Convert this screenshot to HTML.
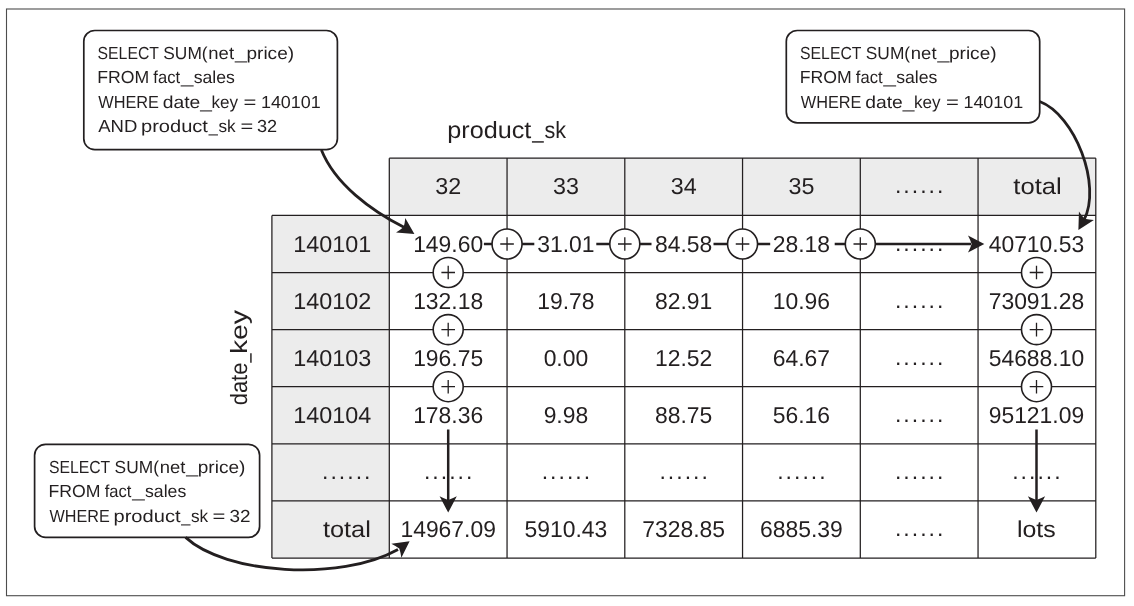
<!DOCTYPE html>
<html lang="en"><head><meta charset="utf-8"><title>Data cube aggregates</title>
<style>html,body{margin:0;padding:0;background:#fff}#fig{width:1134px;height:606px;will-change:transform}svg{display:block}text{white-space:pre;text-rendering:geometricPrecision}</style>
</head><body>
<div id="fig">
<svg width="1134" height="606" viewBox="0 0 1134 606" font-family="'Liberation Sans', sans-serif" fill="#231f20">
<rect x="0" y="0" width="1134" height="606" fill="#fff"/>
<rect x="6.5" y="9.0" width="1118.1" height="586.7" fill="none" stroke="#4d4d4d" stroke-width="1.1"/>
<rect x="389.3" y="158.2" width="706.5" height="57.20000000000002" fill="#ececec"/>
<rect x="271.9" y="215.4" width="117.40000000000003" height="342.6" fill="#ececec"/>
<path d="M389.3,158.2 V558.0 M507.05,158.2 V558.0 M624.8,158.2 V558.0 M742.55,158.2 V558.0 M860.3,158.2 V558.0 M978.05,158.2 V558.0 M1095.8,158.2 V558.0 M271.9,215.4 V558.0 M389.3,158.2 H1095.8 M271.9,215.40 H1095.8 M271.9,272.50 H1095.8 M271.9,329.60 H1095.8 M271.9,386.70 H1095.8 M271.9,443.80 H1095.8 M271.9,500.90 H1095.8 M271.9,558.00 H1095.8" fill="none" stroke="#231f20" stroke-width="1.25"/>
<text x="435.22" y="193.8" font-size="23" textLength="25.92" lengthAdjust="spacingAndGlyphs">32</text>
<text x="552.97" y="193.8" font-size="23" textLength="25.92" lengthAdjust="spacingAndGlyphs">33</text>
<text x="670.72" y="193.8" font-size="23" textLength="25.92" lengthAdjust="spacingAndGlyphs">34</text>
<text x="788.47" y="193.8" font-size="23" textLength="25.92" lengthAdjust="spacingAndGlyphs">35</text>
<text x="894.90 903.33 911.76 920.19 928.62 937.05" y="193.2" font-size="23">......</text>
<text x="1013.39" y="193.8" font-size="23" textLength="48.40" lengthAdjust="spacingAndGlyphs">total</text>
<text x="413.15" y="251.6" font-size="23" textLength="70.04" lengthAdjust="spacingAndGlyphs">149.60</text>
<text x="537.27" y="251.6" font-size="23" textLength="57.31" lengthAdjust="spacingAndGlyphs">31.01</text>
<text x="655.02" y="251.6" font-size="23" textLength="57.31" lengthAdjust="spacingAndGlyphs">84.58</text>
<text x="772.77" y="251.6" font-size="23" textLength="57.31" lengthAdjust="spacingAndGlyphs">28.18</text>
<text x="894.90 903.33 911.76 920.19 928.62 937.05" y="251.0" font-size="23">......</text>
<text x="988.67" y="251.6" font-size="23" textLength="95.51" lengthAdjust="spacingAndGlyphs">40710.53</text>
<text x="413.15" y="308.6" font-size="23" textLength="70.04" lengthAdjust="spacingAndGlyphs">132.18</text>
<text x="537.27" y="308.6" font-size="23" textLength="57.31" lengthAdjust="spacingAndGlyphs">19.78</text>
<text x="655.02" y="308.6" font-size="23" textLength="57.31" lengthAdjust="spacingAndGlyphs">82.91</text>
<text x="772.77" y="308.6" font-size="23" textLength="57.31" lengthAdjust="spacingAndGlyphs">10.96</text>
<text x="894.90 903.33 911.76 920.19 928.62 937.05" y="308.0" font-size="23">......</text>
<text x="988.67" y="308.6" font-size="23" textLength="95.51" lengthAdjust="spacingAndGlyphs">73091.28</text>
<text x="413.15" y="365.7" font-size="23" textLength="70.04" lengthAdjust="spacingAndGlyphs">196.75</text>
<text x="543.64" y="365.7" font-size="23" textLength="44.57" lengthAdjust="spacingAndGlyphs">0.00</text>
<text x="655.02" y="365.7" font-size="23" textLength="57.31" lengthAdjust="spacingAndGlyphs">12.52</text>
<text x="772.77" y="365.7" font-size="23" textLength="57.31" lengthAdjust="spacingAndGlyphs">64.67</text>
<text x="894.90 903.33 911.76 920.19 928.62 937.05" y="365.1" font-size="23">......</text>
<text x="988.67" y="365.7" font-size="23" textLength="95.51" lengthAdjust="spacingAndGlyphs">54688.10</text>
<text x="413.15" y="422.8" font-size="23" textLength="70.04" lengthAdjust="spacingAndGlyphs">178.36</text>
<text x="543.64" y="422.8" font-size="23" textLength="44.57" lengthAdjust="spacingAndGlyphs">9.98</text>
<text x="655.02" y="422.8" font-size="23" textLength="57.31" lengthAdjust="spacingAndGlyphs">88.75</text>
<text x="772.77" y="422.8" font-size="23" textLength="57.31" lengthAdjust="spacingAndGlyphs">56.16</text>
<text x="894.90 903.33 911.76 920.19 928.62 937.05" y="422.2" font-size="23">......</text>
<text x="988.67" y="422.8" font-size="23" textLength="95.51" lengthAdjust="spacingAndGlyphs">95121.09</text>
<text x="423.90 432.33 440.76 449.19 457.62 466.05" y="479.3" font-size="23">......</text>
<text x="541.65 550.08 558.51 566.94 575.37 583.80" y="479.3" font-size="23">......</text>
<text x="659.40 667.83 676.26 684.69 693.12 701.55" y="479.3" font-size="23">......</text>
<text x="777.15 785.58 794.01 802.44 810.87 819.30" y="479.3" font-size="23">......</text>
<text x="894.90 903.33 911.76 920.19 928.62 937.05" y="479.3" font-size="23">......</text>
<text x="1012.15 1020.58 1029.01 1037.44 1045.87 1054.30" y="479.3" font-size="23">......</text>
<text x="400.42" y="537.0" font-size="23" textLength="95.51" lengthAdjust="spacingAndGlyphs">14967.09</text>
<text x="524.54" y="537.0" font-size="23" textLength="82.78" lengthAdjust="spacingAndGlyphs">5910.43</text>
<text x="642.29" y="537.0" font-size="23" textLength="82.78" lengthAdjust="spacingAndGlyphs">7328.85</text>
<text x="760.04" y="537.0" font-size="23" textLength="82.78" lengthAdjust="spacingAndGlyphs">6885.39</text>
<text x="894.90 903.33 911.76 920.19 928.62 937.05" y="536.4" font-size="23">......</text>
<text x="1016.95" y="537.0" font-size="23" textLength="38.78" lengthAdjust="spacingAndGlyphs">lots</text>
<text x="293.38" y="251.6" font-size="23" textLength="77.92" lengthAdjust="spacingAndGlyphs">140101</text>
<text x="293.38" y="308.6" font-size="23" textLength="77.92" lengthAdjust="spacingAndGlyphs">140102</text>
<text x="293.38" y="365.7" font-size="23" textLength="77.92" lengthAdjust="spacingAndGlyphs">140103</text>
<text x="293.38" y="422.8" font-size="23" textLength="77.92" lengthAdjust="spacingAndGlyphs">140104</text>
<text x="321.95 330.38 338.81 347.24 355.67 364.10" y="479.3" font-size="23">......</text>
<text x="322.92" y="537.0" font-size="23" textLength="47.98" lengthAdjust="spacingAndGlyphs">total</text>
<text y="137.6" font-size="23.5"><tspan x="447.27" textLength="84.11" lengthAdjust="spacingAndGlyphs">product</tspan><tspan x="532.31" textLength="11.36" lengthAdjust="spacingAndGlyphs">_</tspan><tspan x="544.50" textLength="21.57" lengthAdjust="spacingAndGlyphs">sk</tspan></text>
<text transform="translate(246.9,404.4) rotate(-90)" font-size="23.5"><tspan x="-0.92" textLength="42.70" lengthAdjust="spacingAndGlyphs">date</tspan><tspan x="41.95" textLength="9.17" lengthAdjust="spacingAndGlyphs">_</tspan><tspan x="50.29" textLength="44.17" lengthAdjust="spacingAndGlyphs">key</tspan></text>
<path d="M483.9,244.0 H492.6 M522,244.0 H534.3 M596.3,244.0 H610 M639.5,244.0 H651.5 M713.5,244.0 H727.8 M757.5,244.0 H770.2 M834.7,244.0 H846 M875,244.0 H971" stroke="#231f20" stroke-width="2.5" fill="none"/>
<path d="M984.30,244.00 L968.00,252.60 Q970.30,248.30 971.60,244.00 Q970.30,239.70 968.00,235.40 Z" fill="#231f20"/>
<path d="M448.2,429.5 V500" stroke="#231f20" stroke-width="2.5" fill="none"/>
<path d="M448.20,512.60 L439.60,496.30 Q443.90,498.60 448.20,499.90 Q452.50,498.60 456.80,496.30 Z" fill="#231f20"/>
<path d="M1036.5,429.5 V500" stroke="#231f20" stroke-width="2.5" fill="none"/>
<path d="M1036.50,512.60 L1027.90,496.30 Q1032.20,498.60 1036.50,499.90 Q1040.80,498.60 1045.10,496.30 Z" fill="#231f20"/>
<circle cx="507.05" cy="244.00" r="15" fill="#fff" stroke="#231f20" stroke-width="1.6"/><path d="M500.25,244.00 H513.85 M507.05,237.20 V250.80" stroke="#231f20" stroke-width="1.3" fill="none"/>
<circle cx="624.8" cy="244.00" r="15" fill="#fff" stroke="#231f20" stroke-width="1.6"/><path d="M618.0,244.00 H631.5999999999999 M624.8,237.20 V250.80" stroke="#231f20" stroke-width="1.3" fill="none"/>
<circle cx="742.55" cy="244.00" r="15" fill="#fff" stroke="#231f20" stroke-width="1.6"/><path d="M735.75,244.00 H749.3499999999999 M742.55,237.20 V250.80" stroke="#231f20" stroke-width="1.3" fill="none"/>
<circle cx="860.3" cy="244.00" r="15" fill="#fff" stroke="#231f20" stroke-width="1.6"/><path d="M853.5,244.00 H867.0999999999999 M860.3,237.20 V250.80" stroke="#231f20" stroke-width="1.3" fill="none"/>
<circle cx="448.2" cy="272.50" r="15" fill="#fff" stroke="#231f20" stroke-width="1.6"/><path d="M441.4,272.50 H455.0 M448.2,265.70 V279.30" stroke="#231f20" stroke-width="1.3" fill="none"/>
<circle cx="448.2" cy="329.60" r="15" fill="#fff" stroke="#231f20" stroke-width="1.6"/><path d="M441.4,329.60 H455.0 M448.2,322.80 V336.40" stroke="#231f20" stroke-width="1.3" fill="none"/>
<circle cx="448.2" cy="386.70" r="15" fill="#fff" stroke="#231f20" stroke-width="1.6"/><path d="M441.4,386.70 H455.0 M448.2,379.90 V393.50" stroke="#231f20" stroke-width="1.3" fill="none"/>
<circle cx="1036.5" cy="272.50" r="15" fill="#fff" stroke="#231f20" stroke-width="1.6"/><path d="M1029.7,272.50 H1043.3 M1036.5,265.70 V279.30" stroke="#231f20" stroke-width="1.3" fill="none"/>
<circle cx="1036.5" cy="329.60" r="15" fill="#fff" stroke="#231f20" stroke-width="1.6"/><path d="M1029.7,329.60 H1043.3 M1036.5,322.80 V336.40" stroke="#231f20" stroke-width="1.3" fill="none"/>
<circle cx="1036.5" cy="386.70" r="15" fill="#fff" stroke="#231f20" stroke-width="1.6"/><path d="M1029.7,386.70 H1043.3 M1036.5,379.90 V393.50" stroke="#231f20" stroke-width="1.3" fill="none"/>
<rect x="83.8" y="30.5" width="253.60" height="119.20" rx="11" ry="11" fill="#fff" stroke="#231f20" stroke-width="1.7"/>
<text y="59.4" font-size="17.4"><tspan x="97.59" textLength="61.07" lengthAdjust="spacingAndGlyphs">SELECT</tspan> <tspan x="163.31" textLength="44.29" lengthAdjust="spacingAndGlyphs">SUM(</tspan><tspan x="208.37" textLength="25.66" lengthAdjust="spacingAndGlyphs">net</tspan><tspan x="234.92" textLength="11.84" lengthAdjust="spacingAndGlyphs">_</tspan><tspan x="246.47" textLength="47.61" lengthAdjust="spacingAndGlyphs">price)</tspan></text>
<text y="83.3" font-size="17.4"><tspan x="97.25" textLength="52.00" lengthAdjust="spacingAndGlyphs">FROM</tspan> <tspan x="153.37" textLength="26.66" lengthAdjust="spacingAndGlyphs">fact</tspan><tspan x="180.94" textLength="12.41" lengthAdjust="spacingAndGlyphs">_</tspan><tspan x="193.71" textLength="41.23" lengthAdjust="spacingAndGlyphs">sales</tspan></text>
<text y="107.6" font-size="17.4"><tspan x="98.23" textLength="60.77" lengthAdjust="spacingAndGlyphs">WHERE</tspan> <tspan x="162.79" textLength="37.57" lengthAdjust="spacingAndGlyphs">date</tspan><tspan x="200.32" textLength="11.65" lengthAdjust="spacingAndGlyphs">_</tspan><tspan x="211.55" textLength="26.58" lengthAdjust="spacingAndGlyphs">key</tspan> <tspan x="243.52" textLength="12.86" lengthAdjust="spacingAndGlyphs">=</tspan> <tspan x="260.93" textLength="59.84" lengthAdjust="spacingAndGlyphs">140101</tspan></text>
<text y="131.6" font-size="17.4"><tspan x="98.26" textLength="39.12" lengthAdjust="spacingAndGlyphs">AND</tspan> <tspan x="141.01" textLength="66.96" lengthAdjust="spacingAndGlyphs">product</tspan><tspan x="208.70" textLength="9.04" lengthAdjust="spacingAndGlyphs">_</tspan><tspan x="218.40" textLength="17.17" lengthAdjust="spacingAndGlyphs">sk</tspan> <tspan x="240.43" textLength="12.74" lengthAdjust="spacingAndGlyphs">=</tspan> <tspan x="256.91" textLength="20.21" lengthAdjust="spacingAndGlyphs">32</tspan></text>
<rect x="786.3" y="30.5" width="253.40" height="92.40" rx="11" ry="11" fill="#fff" stroke="#231f20" stroke-width="1.7"/>
<text y="59.4" font-size="17.4"><tspan x="800.09" textLength="61.07" lengthAdjust="spacingAndGlyphs">SELECT</tspan> <tspan x="865.81" textLength="44.29" lengthAdjust="spacingAndGlyphs">SUM(</tspan><tspan x="910.87" textLength="25.66" lengthAdjust="spacingAndGlyphs">net</tspan><tspan x="937.42" textLength="11.84" lengthAdjust="spacingAndGlyphs">_</tspan><tspan x="948.97" textLength="47.61" lengthAdjust="spacingAndGlyphs">price)</tspan></text>
<text y="83.3" font-size="17.4"><tspan x="799.75" textLength="52.00" lengthAdjust="spacingAndGlyphs">FROM</tspan> <tspan x="855.87" textLength="26.66" lengthAdjust="spacingAndGlyphs">fact</tspan><tspan x="883.44" textLength="12.41" lengthAdjust="spacingAndGlyphs">_</tspan><tspan x="896.21" textLength="41.23" lengthAdjust="spacingAndGlyphs">sales</tspan></text>
<text y="107.6" font-size="17.4"><tspan x="800.73" textLength="60.77" lengthAdjust="spacingAndGlyphs">WHERE</tspan> <tspan x="865.29" textLength="37.57" lengthAdjust="spacingAndGlyphs">date</tspan><tspan x="902.82" textLength="11.65" lengthAdjust="spacingAndGlyphs">_</tspan><tspan x="914.05" textLength="26.58" lengthAdjust="spacingAndGlyphs">key</tspan> <tspan x="946.02" textLength="12.86" lengthAdjust="spacingAndGlyphs">=</tspan> <tspan x="963.43" textLength="59.84" lengthAdjust="spacingAndGlyphs">140101</tspan></text>
<rect x="34.6" y="444.3" width="225.00" height="93.10" rx="11" ry="11" fill="#fff" stroke="#231f20" stroke-width="1.7"/>
<text y="473.2" font-size="17.4"><tspan x="48.89" textLength="61.07" lengthAdjust="spacingAndGlyphs">SELECT</tspan> <tspan x="114.61" textLength="44.29" lengthAdjust="spacingAndGlyphs">SUM(</tspan><tspan x="159.67" textLength="25.66" lengthAdjust="spacingAndGlyphs">net</tspan><tspan x="186.22" textLength="11.84" lengthAdjust="spacingAndGlyphs">_</tspan><tspan x="197.77" textLength="47.61" lengthAdjust="spacingAndGlyphs">price)</tspan></text>
<text y="497.2" font-size="17.4"><tspan x="48.55" textLength="52.00" lengthAdjust="spacingAndGlyphs">FROM</tspan> <tspan x="104.67" textLength="26.66" lengthAdjust="spacingAndGlyphs">fact</tspan><tspan x="132.24" textLength="12.41" lengthAdjust="spacingAndGlyphs">_</tspan><tspan x="145.01" textLength="41.23" lengthAdjust="spacingAndGlyphs">sales</tspan></text>
<text y="521.5" font-size="17.4"><tspan x="49.53" textLength="60.27" lengthAdjust="spacingAndGlyphs">WHERE</tspan> <tspan x="113.50" textLength="67.03" lengthAdjust="spacingAndGlyphs">product</tspan><tspan x="181.27" textLength="9.05" lengthAdjust="spacingAndGlyphs">_</tspan><tspan x="190.99" textLength="17.19" lengthAdjust="spacingAndGlyphs">sk</tspan> <tspan x="212.42" textLength="12.86" lengthAdjust="spacingAndGlyphs">=</tspan> <tspan x="229.48" textLength="21.07" lengthAdjust="spacingAndGlyphs">32</tspan></text>
<path d="M321.4,150 C335,184 371,210.5 404,227.3" fill="none" stroke="#231f20" stroke-width="2.8"/>
<path d="M414.40,233.90 L396.03,232.43 Q400.28,230.03 403.68,227.10 Q404.88,222.77 405.25,217.90 Z" fill="#231f20"/>
<path d="M1039.7,101.5 C1075,115 1102,185 1084,220" fill="none" stroke="#231f20" stroke-width="2.8"/>
<path d="M1078.40,229.90 L1078.94,211.48 Q1081.55,215.60 1084.65,218.85 Q1089.04,219.83 1093.91,219.95 Z" fill="#231f20"/>
<path d="M185.6,537.4 C225,574 340,582 398,549.5" fill="none" stroke="#231f20" stroke-width="2.8"/>
<path d="M409.60,541.20 L401.35,557.68 Q400.72,552.84 399.27,548.59 Q395.71,545.85 391.34,543.69 Z" fill="#231f20"/>
</svg>
</div>
</body></html>
